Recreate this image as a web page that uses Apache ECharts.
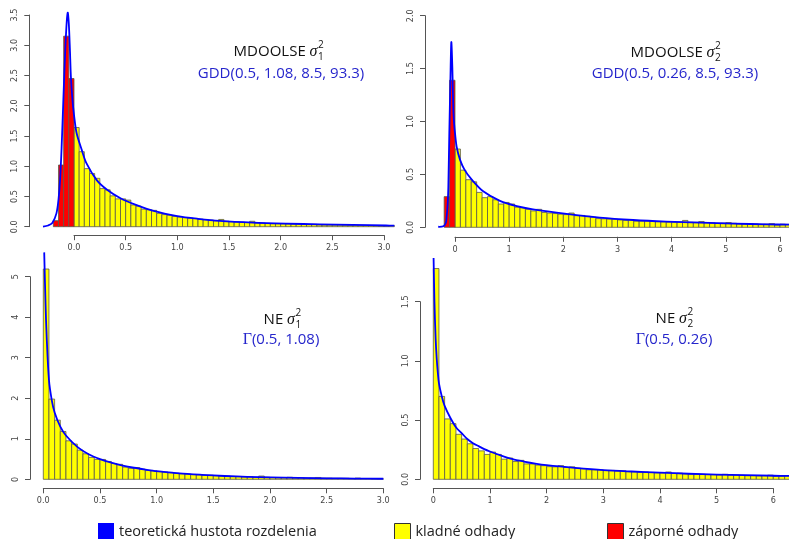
<!DOCTYPE html>
<html><head><meta charset="utf-8">
<script src="https://cdn.jsdelivr.net/npm/echarts@6/dist/echarts.min.js"></script>
<style>html,body{margin:0;padding:0;background:#fff}#c{width:789px;height:539px}</style>
</head><body><div id="c"></div><script>
// ---------- DATA ----------
// Panel 1: MDOOLSE sigma1^2
const p1XLabels = ['0.0','0.5','1.0','1.5','2.0','2.5','3.0'];
const p1YLabels = ['0.0','0.5','1.0','1.5','2.0','2.5','3.0','3.5'];
const p1BinWidth = 0.05;
const p1RedStart = -0.2;
const p1Red = [0.10, 1.02, 3.15, 2.45];
const p1YellowStart = 0;
const p1Yellow = [1.64,1.24,0.96,0.88,0.80,0.63,0.61,0.51,0.46,0.46,
  0.44,0.36,0.34,0.29,0.28,0.27,0.22,0.20,0.19,0.17,
  0.16,0.15,0.14,0.135,0.125,0.12,0.11,0.10,0.12,0.09,
  0.085,0.08,0.075,0.07,0.09,0.06,0.06,0.055,0.05,0.05,
  0.048,0.045,0.04,0.04,0.035,0.035,0.038,0.03,0.028,0.027,
  0.025,0.025,0.022,0.02,0.022,0.018,0.017,0.016,0.015,0.014,
  0.013,0.02];
const p1CurveX = [-0.30,-0.25,-0.21,-0.17,-0.15,-0.135,-0.12,-0.103,-0.085,-0.07,-0.06,-0.05,-0.04,-0.03,-0.015,0.0,0.025,0.075,0.12,0.22,0.32,0.45,0.6,0.77,1.0,1.2,1.41,1.73,2.06,2.38,2.7,3.02,3.1];
const p1CurveY = [0.0,0.02,0.06,0.22,0.45,0.77,1.3,2.1,2.9,3.4,3.54,3.35,2.95,2.48,2.1,1.85,1.55,1.27,1.05,0.77,0.61,0.47,0.36,0.26,0.175,0.13,0.095,0.066,0.05,0.04,0.03,0.02,0.018];

// Panel 2: MDOOLSE sigma2^2
const p2XLabels = ['0','1','2','3','4','5','6'];
const p2YLabels = ['0.0','0.5','1.0','1.5','2.0'];
const p2BinWidth = 0.1;
const p2RedStart = -0.2;
const p2Red = [0.29, 1.39];
const p2YellowStart = 0;
const p2Yellow = [0.74,0.54,0.45,0.43,0.33,0.28,0.29,0.26,0.22,0.235,
  0.22,0.19,0.185,0.17,0.155,0.17,0.14,0.135,0.13,0.124,
  0.12,0.135,0.11,0.112,0.104,0.095,0.082,0.08,0.078,0.076,
  0.07,0.065,0.07,0.058,0.06,0.06,0.055,0.055,0.053,0.05,
  0.048,0.05,0.065,0.048,0.047,0.055,0.046,0.042,0.038,0.04,
  0.045,0.038,0.032,0.032,0.033,0.032,0.028,0.03,0.035,0.022,
  0.03,0.028];
const p2CurveX = [-0.31,-0.215,-0.17,-0.154,-0.135,-0.123,-0.105,-0.086,-0.068,-0.049,-0.031,-0.015,0,0.031,0.092,0.18,0.31,0.52,0.83,1.14,1.44,2.06,2.67,3.29,3.9,4.52,5.14,5.75,6.2];
const p2CurveY = [0.005,0.01,0.04,0.1,0.22,0.38,0.89,1.36,1.75,1.51,1.11,0.97,0.89,0.76,0.64,0.54,0.45,0.34,0.25,0.2,0.17,0.127,0.092,0.069,0.054,0.044,0.035,0.028,0.025];

// Panel 3: NE sigma1^2
const p3XLabels = ['0.0','0.5','1.0','1.5','2.0','2.5','3.0'];
const p3YLabels = ['0','1','2','3','4','5'];
const p3BinWidth = 0.05;
const p3YellowStart = 0;
const p3Yellow = [5.19,1.98,1.46,1.18,0.95,0.87,0.72,0.63,0.54,0.49,
  0.49,0.44,0.39,0.37,0.30,0.27,0.29,0.25,0.22,0.21,
  0.19,0.18,0.17,0.15,0.14,0.13,0.12,0.11,0.10,0.10,
  0.09,0.08,0.08,0.07,0.07,0.06,0.065,0.05,0.08,0.05,
  0.045,0.04,0.04,0.05,0.035,0.035,0.03,0.035,0.045,0.03,
  0.03,0.025,0.025,0.025,0.02,0.03,0.02,0.02,0.015,0.015];
const p3CurveX = [0.008,0.02,0.03,0.05,0.075,0.1,0.15,0.2,0.3,0.4,0.5,0.6,0.7,0.8,0.9,1.0,1.2,1.4,1.6,1.8,2.0,2.25,2.5,2.75,3.0];
const p3CurveY = [5.6,4.3,3.5,2.45,1.95,1.65,1.3,1.08,0.8,0.62,0.5,0.41,0.34,0.285,0.24,0.2,0.145,0.11,0.082,0.062,0.047,0.034,0.025,0.019,0.014];

// Panel 4: NE sigma2^2
const p4XLabels = ['0','1','2','3','4','5','6'];
const p4YLabels = ['0.0','0.5','1.0','1.5'];
const p4BinWidth = 0.1;
const p4YellowStart = 0;
const p4Yellow = [1.78,0.70,0.51,0.47,0.38,0.34,0.30,0.26,0.24,0.21,
  0.23,0.21,0.17,0.18,0.15,0.16,0.13,0.13,0.12,0.115,
  0.107,0.105,0.115,0.10,0.105,0.093,0.09,0.08,0.08,0.08,
  0.075,0.075,0.07,0.072,0.065,0.065,0.06,0.062,0.058,0.055,
  0.055,0.062,0.05,0.052,0.048,0.045,0.045,0.042,0.04,0.04,
  0.038,0.042,0.035,0.035,0.033,0.03,0.03,0.028,0.03,0.035,
  0.025,0.025,0.028];
const p4CurveX = [0.005,0.02,0.04,0.06,0.08,0.1,0.15,0.2,0.3,0.4,0.5,0.6,0.7,0.8,0.9,1.0,1.2,1.4,1.6,1.8,2.0,2.5,3.0,3.5,4.0,4.5,5.0,5.5,6.0,6.3];
const p4CurveY = [1.87,1.5,1.2,1.02,0.9,0.81,0.7,0.62,0.52,0.44,0.39,0.34,0.305,0.28,0.255,0.235,0.2,0.17,0.15,0.133,0.12,0.097,0.078,0.066,0.056,0.047,0.04,0.035,0.03,0.028];

const legendNames = ['teoretická hustota rozdelenia', 'kladné odhady', 'záporné odhady'];
const panelTitles = [
  {prefix:'MDOOLSE', sub:'1', line2:'GDD(0.5, 1.08, 8.5, 93.3)', gamma:false},
  {prefix:'MDOOLSE', sub:'2', line2:'GDD(0.5, 0.26, 8.5, 93.3)', gamma:false},
  {prefix:'NE', sub:'1', line2:'(0.5, 1.08)', gamma:true},
  {prefix:'NE', sub:'2', line2:'(0.5, 0.26)', gamma:true}
];

// ---------- STYLE / LAYOUT ----------
const AX_FONT = '"Liberation Sans Narrow","DejaVu Sans Condensed","Liberation Sans",sans-serif';
const TXT_FONT = '"Open Sans","Noto Sans",sans-serif';
const SERIF = '"Liberation Serif","DejaVu Serif",serif';
const YELLOW = '#ffff00', RED = '#ff0000', BLUE = '#0000ff', BORDER = '#5a5a4a';
const TXT_BLUE = '#2626cc';

const layout = [
  {grid:{left:74, top:15, width:310, height:211.7}, xOff:8.5, yOff:44.7, anchor:317.5, ty:52, cx:281, ty2:74},
  {grid:{left:455, top:15.7, width:325, height:211.6}, xOff:9.5, yOff:30, anchor:714.5, ty:53, cx:675, ty2:74},
  {grid:{left:43.3, top:276.7, width:340, height:202.6}, xOff:9, yOff:13.3, anchor:295, ty:320, cx:281, ty2:340},
  {grid:{left:433.3, top:301.7, width:340, height:177.6}, xOff:9, yOff:13.3, anchor:687, ty:319, cx:674, ty2:340}
];

const panelData = [
  {xl:p1XLabels, yl:p1YLabels, w:p1BinWidth, redStart:p1RedStart, red:p1Red, yStart:p1YellowStart, yellow:p1Yellow, cx:p1CurveX, cy:p1CurveY},
  {xl:p2XLabels, yl:p2YLabels, w:p2BinWidth, redStart:p2RedStart, red:p2Red, yStart:p2YellowStart, yellow:p2Yellow, cx:p2CurveX, cy:p2CurveY},
  {xl:p3XLabels, yl:p3YLabels, w:p3BinWidth, redStart:0, red:[], yStart:p3YellowStart, yellow:p3Yellow, cx:p3CurveX, cy:p3CurveY},
  {xl:p4XLabels, yl:p4YLabels, w:p4BinWidth, redStart:0, red:[], yStart:p4YellowStart, yellow:p4Yellow, cx:p4CurveX, cy:p4CurveY}
];

function axisFrom(labels, idx, isX, off) {
  const min = parseFloat(labels[0]);
  const max = parseFloat(labels[labels.length-1]);
  const interval = parseFloat(labels[1]) - min;
  return {
    gridIndex: idx, type:'value', min, max, interval, offset: off,
    axisLine:{show:true, onZero:false, lineStyle:{color:'#555', width:1}},
    axisTick:{show:true, length:5, lineStyle:{color:'#555', width:1}},
    splitLine:{show:false},
    axisLabel:{
      show:true, fontSize:9, color:'#444', fontFamily: AX_FONT,
      margin: isX ? 8 : 10, rotate: isX ? 0 : 90,
      hideOverlap:false, showMinLabel:true, showMaxLabel:true,
      formatter: (v) => labels[Math.round((v - min) / interval)]
    }
  };
}

function histSeries(name, idx, start, width, vals, fill) {
  return {
    type:'custom', name, xAxisIndex:idx, yAxisIndex:idx, clip:false, z:2, silent:true,
    itemStyle:{color:fill},
    encode:{x:[0,1], y:2},
    data: vals.map((v,i) => [start + i*width, start + (i+1)*width, v]),
    renderItem: (params, api) => {
      const a = api.coord([api.value(0), api.value(2)]);
      const b = api.coord([api.value(1), 0]);
      return {type:'rect', shape:{x:a[0], y:a[1], width:b[0]-a[0], height:b[1]-a[1]},
        style:{fill:fill, stroke:BORDER, lineWidth:0.8}};
    }
  };
}

function curveSeries(name, idx, xs, ys) {
  return {
    type:'custom', name, xAxisIndex:idx, yAxisIndex:idx, clip:false, z:5, silent:true,
    itemStyle:{color:BLUE},
    encode:{x:0, y:1},
    data: xs.map((x,k) => [x, ys[k]]),
    renderItem: (params, api) => {
      if (params.dataIndex !== 0) return null;
      const pts = xs.map((x,k) => api.coord([x, ys[k]]));
      return {type:'polyline', shape:{points:pts, smooth:0.3}, style:{stroke:BLUE, lineWidth:1.8, fill:null}};
    }
  };
}

const grids = [], xAxes = [], yAxes = [], series = [], graphics = [];
panelData.forEach((p, i) => {
  const L = layout[i];
  grids.push(Object.assign({outerBoundsMode:'none', containLabel:false}, L.grid));
  xAxes.push(axisFrom(p.xl, i, true, L.xOff));
  yAxes.push(axisFrom(p.yl, i, false, L.yOff));
  series.push(histSeries(legendNames[1], i, p.yStart, p.w, p.yellow, YELLOW));
  if (p.red.length) series.push(histSeries(legendNames[2], i, p.redStart, p.w, p.red, RED));
  series.push(curveSeries(legendNames[0], i, p.cx, p.cy));
  const t = panelTitles[i];
  graphics.push({
    type:'text', x:L.anchor, y:L.ty,
    style:{text:'{a|'+t.prefix+' }{s|σ}', fill:'#111',
      rich:{a:{fontSize:15, fontFamily:TXT_FONT, fill:'#111'}, s:{fontSize:16, fontStyle:'italic', fontFamily:SERIF, fill:'#111'}},
      align:'right', verticalAlign:'middle', textAlign:'right', textVerticalAlign:'middle'}
  });
  graphics.push({type:'text', x:L.anchor+0.5, y:L.ty+5,
    style:{text:t.sub, fontSize:10, fontFamily:TXT_FONT, fill:'#111', align:'left', verticalAlign:'middle', textAlign:'left', textVerticalAlign:'middle'}});
  graphics.push({type:'text', x:L.anchor+0.5, y:L.ty-7,
    style:{text:'2', fontSize:10, fontFamily:TXT_FONT, fill:'#111', align:'left', verticalAlign:'middle', textAlign:'left', textVerticalAlign:'middle'}});
  const line2 = t.gamma ? '{g|Γ}{b|' + t.line2 + '}' : '{b|' + t.line2 + '}';
  graphics.push({type:'text', x:L.cx, y:L.ty2,
    style:{text: line2, fill:TXT_BLUE,
      rich:{b:{fontSize:15, fontFamily:TXT_FONT, fill:TXT_BLUE}, g:{fontSize:16, fontFamily:SERIF, fill:TXT_BLUE}},
      align:'center', verticalAlign:'middle', textAlign:'center', textVerticalAlign:'middle'}});
});

const legendCommon = {orient:'horizontal', top:518, itemWidth:16, itemHeight:17, selectedMode:false,
  textStyle:{fontSize:14.5, color:'#222', fontFamily:TXT_FONT}};
const option = {
  animation:false,
  backgroundColor:'#fff',
  grid: grids, xAxis: xAxes, yAxis: yAxes, series,
  graphic: graphics,
  legend: [
    Object.assign({}, legendCommon, {left:93, data:[{name:legendNames[0], icon:'rect', itemStyle:{color:BLUE, borderWidth:0}}]}),
    Object.assign({}, legendCommon, {left:389, data:[{name:legendNames[1], icon:'rect', itemStyle:{color:YELLOW, borderColor:'#333', borderWidth:1}}]}),
    Object.assign({}, legendCommon, {left:602, data:[{name:legendNames[2], icon:'rect', itemStyle:{color:RED, borderColor:'#333', borderWidth:1}}]})
  ]
};
const chart = echarts.init(document.getElementById('c'), null, {renderer:'canvas'});
chart.setOption(option);
</script></body></html>
